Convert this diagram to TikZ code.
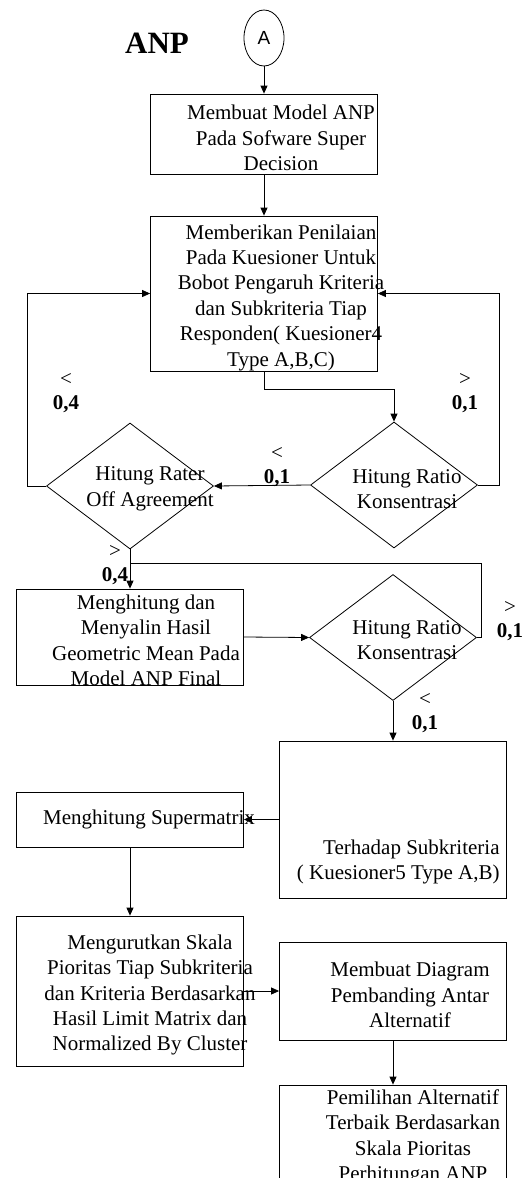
\documentclass[tikz,border=0pt]{standalone}
\usepackage{fontspec}
\setmainfont{Liberation Serif}
\newfontfamily\sansfontA{Liberation Sans}
\usetikzlibrary{positioning,arrows.meta,shapes.geometric}

\begin{document}
\begin{tikzpicture}[x=1pt, y=-1pt, line width=0.8pt,
    box/.style={rectangle, draw, minimum width=227pt, inner sep=0pt},
    decision/.style={diamond, draw, minimum width=167pt, minimum height=126pt, inner sep=0pt},
    txt/.style={font=\fontsize{21}{25.4}\selectfont, align=center, inner sep=0pt},
    cond/.style={font=\fontsize{21}{24}\selectfont, align=center, inner sep=0pt},
    arrow/.style={-{Triangle[length=8pt,width=7pt]}}
]
\clip (0,0) rectangle (527,1178);

\node[font=\bfseries\fontsize{31}{31}\selectfont, inner sep=0pt] (title) at (157,43) {ANP};
\node[ellipse, draw, minimum width=40pt, minimum height=56pt, inner sep=0pt, font=\sansfontA\fontsize{19}{19}\selectfont] (start) at (264,38) {A};

\node[box, minimum height=80pt]  (b1) at (264,134)   {};
\node[box, minimum height=155pt] (b2) at (264,293.5) {};
\node[decision] (d1) at (130,486) {};
\node[decision] (d2) at (394,485) {};
\node[box, minimum height=96pt]  (b3) at (130,637)   {};
\node[decision] (d3) at (393,637.5) {};
\node[box, minimum height=157pt] (b4) at (393,819.5) {};
\node[box, minimum height=55pt]  (b5) at (130,819.5) {};
\node[box, minimum height=150pt] (b6) at (130,991)   {};
\node[box, minimum height=98pt]  (b7) at (393,991)   {};
\node[box, minimum height=120pt] (b8) at (393,1145)  {};

\node[txt] (t1) at (281,138)   {Membuat Model ANP\\Pada Sofware Super\\Decision};
\node[txt] (t2) at (281,297.5) {Memberikan Penilaian\\Pada Kuesioner Untuk\\Bobot Pengaruh Kriteria\\dan Subkriteria Tiap\\Responden( Kuesioner4\\Type A,B,C)};
\node[txt] (td1) at (150,489)  {Hitung Rater\\Off Agreement};
\node[txt] (td2) at (407,489)  {Hitung Ratio\\Konsentrasi};
\node[txt] (t3) at (146,640.5) {Menghitung dan\\Menyalin Hasil\\Geometric Mean Pada\\Model ANP Final};
\node[txt] (td3) at (407,640)  {Hitung Ratio\\Konsentrasi};
\node[txt, align=right, anchor=east] (t4) at (500,862) {Terhadap Subkriteria\\( Kuesioner5 Type A,B)};
\node[txt] (t5) at (149,819)   {Menghitung Supermatrix};
\node[txt] (t6) at (150,995)   {Mengurutkan Skala\\Pioritas Tiap Subkriteria\\dan Kriteria Berdasarkan\\Hasil Limit Matrix dan\\Normalized By Cluster};
\node[txt] (t7) at (410,995)   {Membuat Diagram\\Pembanding Antar\\Alternatif};
\node[txt] (t8) at (413,1137.5) {Pemilihan Alternatif\\Terbaik Berdasarkan\\Skala Pioritas\\Perhitungan ANP};

\node[cond] (c1) at (66,393)  {<\\\textbf{0,4}};
\node[cond] (c2) at (465,393) {>\\\textbf{0,1}};
\node[cond] (c3) at (277,467) {<\\\textbf{0,1}};
\node[cond] (c4) at (115,565) {>\\\textbf{0,4}};
\node[cond] (c5) at (510,621) {>\\\textbf{0,1}};
\node[cond] (c6) at (425,713) {<\\\textbf{0,1}};

\coordinate (m1) at (130,563);

\draw[arrow] (start) -- (b1);
\draw[arrow] (b1) -- (b2);
\draw[arrow] (b2.south) -- ++(0,18) -| (d2.north);
\draw[arrow] (d2.west) -- (d1.east);
\draw[arrow] (d1.west) -- ++(-19,0) |- (b2.west);
\draw[arrow] (d2.east) -- ++(21,0) |- (b2.east);
\draw[arrow] (d1.south) -- (b3.north);
\draw (d3.east) -- ++(4,0) |- (m1);
\draw[arrow] (b3.east) -- (d3.west);
\draw[arrow] (d3.south) -- (b4.north);
\draw[arrow] (b4.west) -- (b5.east);
\draw[arrow] (b5) -- (b6);
\draw[arrow] (b6.east) -- (b7.west);
\draw[arrow] (b7) -- (b8);
\end{tikzpicture}
\end{document}
